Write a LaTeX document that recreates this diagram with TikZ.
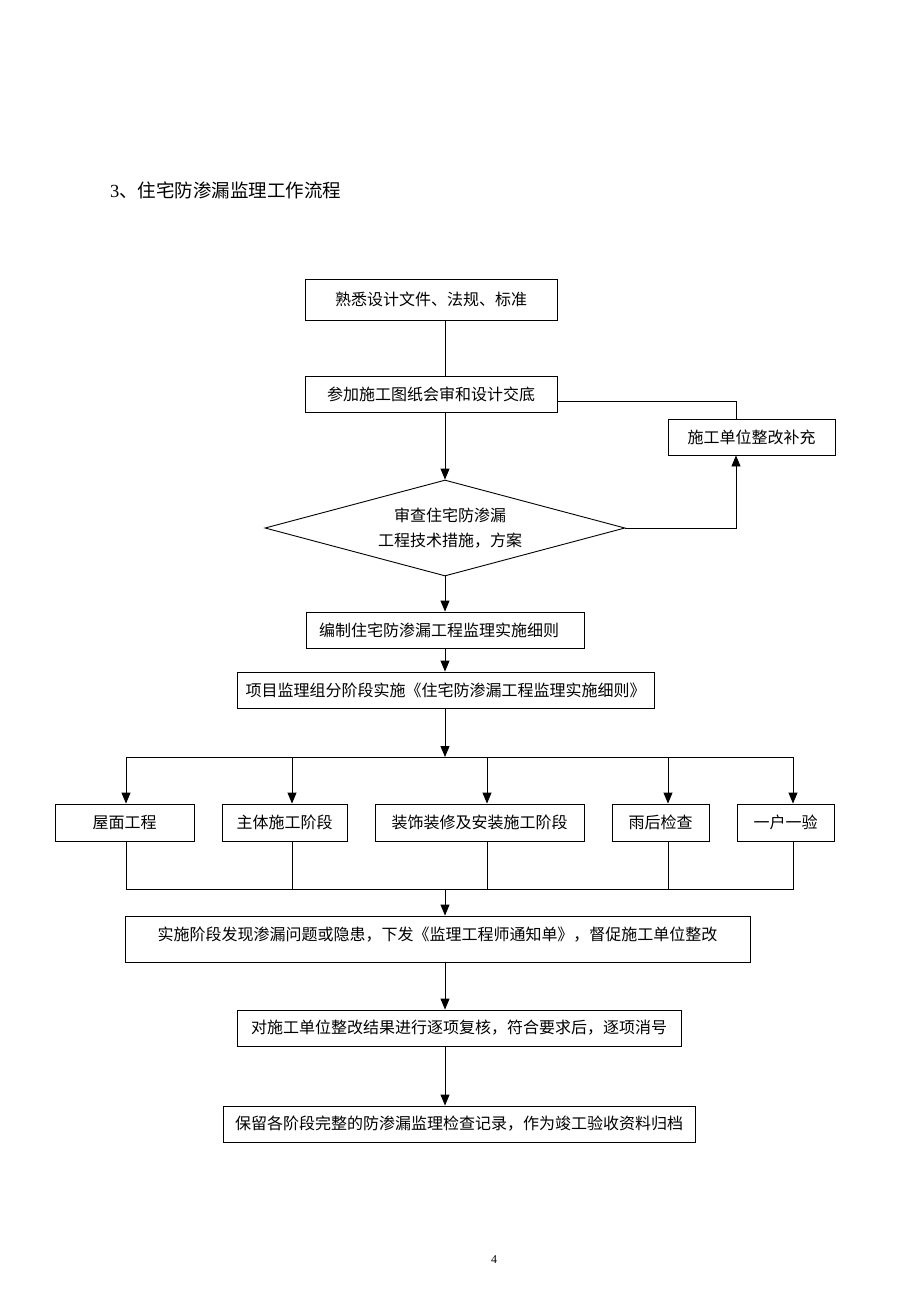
\documentclass[tikz,border=0pt]{standalone}
\usepackage{fontspec}
\setmainfont{Liberation Serif}
\newfontfamily\cjk{Noto Sans CJK SC}
\usetikzlibrary{shapes.geometric,arrows.meta}
\begin{document}
\begin{tikzpicture}[x=1pt,y=-1pt,
  box/.style={draw,line width=0.9pt,rectangle,inner sep=0pt,font=\cjk\fontsize{16pt}{19pt}\selectfont},
  conn/.style={line width=0.9pt},
  arr/.style={line width=0.9pt,-{Triangle[length=11pt,width=9pt]}}]
\useasboundingbox (0,0) rectangle (920,1302);
\fill[white] (0,0) rectangle (920,1302);
% title
\node[anchor=west,inner sep=0pt] (title) at (110,190) {\fontsize{18.5pt}{22pt}\selectfont 3{\cjk 、住宅防渗漏监理工作流程}};
% boxes
\node[box,minimum width=252pt,minimum height=41pt] (b1) at (431,299.5) {熟悉设计文件、法规、标准};
\node[box,minimum width=252pt,minimum height=36pt] (b2) at (431,394) {参加施工图纸会审和设计交底};
\node[box,minimum width=167pt,minimum height=36pt] (side) at (751.5,437) {施工单位整改补充};
\node[box,shape=diamond,aspect=3.75,minimum width=360pt,minimum height=96pt,align=center] (d) at (445,528) {\hspace*{10pt}审查住宅防渗漏\\[6pt]\hspace*{10pt}工程技术措施，方案};
\node[box,minimum width=278pt,minimum height=36pt] (b3) at (445,630) {编制住宅防渗漏工程监理实施细则\hspace*{12pt}};
\node[box,minimum width=417pt,minimum height=36pt] (b4) at (445.5,690) {项目监理组分阶段实施《住宅防渗漏工程监理实施细则》};
\node[box,minimum width=139pt,minimum height=37pt] (s1) at (124.5,822.5) {屋面工程};
\node[box,minimum width=125pt,minimum height=37pt] (s2) at (284.5,822.5) {主体施工阶段};
\node[box,minimum width=209pt,minimum height=37pt] (s3) at (479.5,822.5) {装饰装修及安装施工阶段};
\node[box,minimum width=97pt,minimum height=37pt] (s4) at (660.5,822.5) {雨后检查};
\node[box,minimum width=97pt,minimum height=37pt] (s5) at (785.5,822.5) {一户一验};
\node[box,minimum width=625pt,minimum height=46pt,text depth=10pt] (b5) at (437.5,939) {实施阶段发现渗漏问题或隐患，下发《监理工程师通知单》，督促施工单位整改};
\node[box,minimum width=444pt,minimum height=36pt] (b6) at (459,1028) {对施工单位整改结果进行逐项复核，符合要求后，逐项消号};
\node[box,minimum width=472pt,minimum height=36pt] (b7) at (459,1124) {保留各阶段完整的防渗漏监理检查记录，作为竣工验收资料归档};
% page number
\node[inner sep=0pt,font=\fontsize{12pt}{14pt}\selectfont] (pg) at (494,1260) {4};
% junction coordinates
\coordinate (j0) at (445,757);
\coordinate (j1) at (126,757);
\coordinate (j2) at (292,757);
\coordinate (j3) at (487,757);
\coordinate (j4) at (668,757);
\coordinate (j5) at (793,757);
\coordinate (k0) at (445,889);
\coordinate (k1) at (126,889);
\coordinate (k2) at (292,889);
\coordinate (k3) at (487,889);
\coordinate (k4) at (668,889);
\coordinate (k5) at (793,889);
\coordinate (sx) at (736,437);
% main connectors
\draw[conn] (b1.south -| d.north) -- (b2.north -| d.north);
\draw[arr] (b2.south -| d.north) -- (d.north);
\draw[arr] (d.south) -- (b3.north);
\draw[arr] (b3.south) -- (b4.north -| b3.south);
\draw[arr] (b4.south -| j0) -- (j0);
\draw[conn] (j1) -- (j5);
\draw[arr] (j1) -- (s1.north -| j1);
\draw[arr] (j2) -- (s2.north -| j2);
\draw[arr] (j3) -- (s3.north -| j3);
\draw[arr] (j4) -- (s4.north -| j4);
\draw[arr] (j5) -- (s5.north -| j5);
\draw[conn] (s1.south -| k1) -- (k1) -- (k5) -- (s5.south -| k5);
\draw[conn] (s2.south -| k2) -- (k2);
\draw[conn] (s3.south -| k3) -- (k3);
\draw[conn] (s4.south -| k4) -- (k4);
\draw[arr] (k0) -- (b5.north -| k0);
\draw[arr] (b5.south -| k0) -- (b6.north -| k0);
\draw[arr] (b6.south -| k0) -- (b7.north -| k0);
% feedback loop
\draw[conn] ([yshift=-7pt]b2.east) -- ([yshift=-7pt]b2.east -| sx) -- (side.north -| sx);
\draw[arr] (d.east) -- (d.east -| sx) -- (side.south -| sx);
\end{tikzpicture}
\end{document}
